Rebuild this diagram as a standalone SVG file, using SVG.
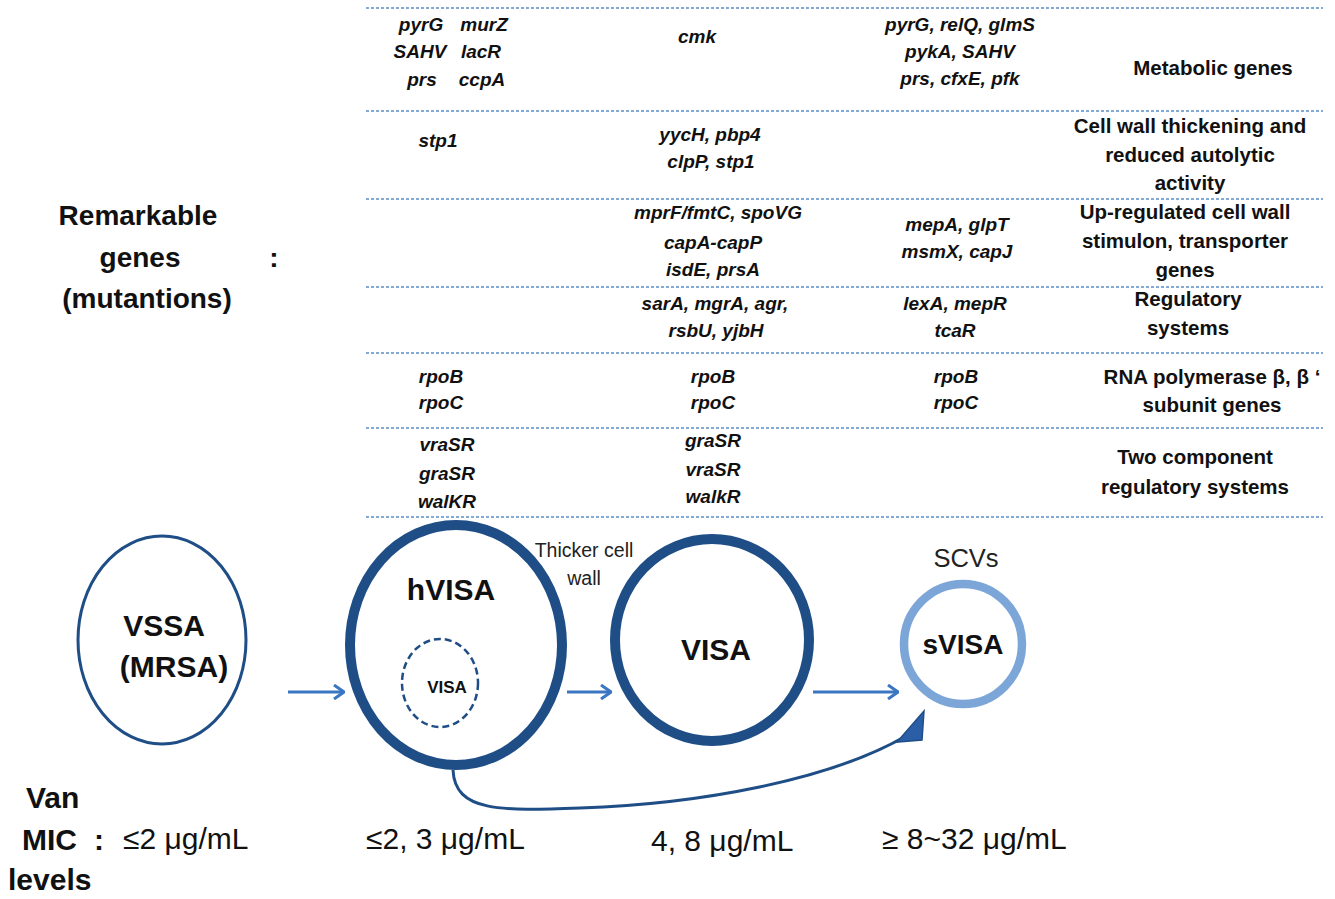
<svg xmlns="http://www.w3.org/2000/svg" width="1335" height="899" viewBox="0 0 1335 899">
<defs>
<style>
.sep{stroke:#5B8FC7;stroke-width:1.4;stroke-dasharray:3 2;fill:none}
.g{font-family:"Liberation Sans",Arial,sans-serif;font-weight:bold;font-style:italic;font-size:19px;fill:#111;text-anchor:middle}
.lab{font-family:"Liberation Sans",Arial,sans-serif;font-weight:bold;font-size:20.5px;fill:#111;text-anchor:middle}
.big{font-family:"Liberation Sans",Arial,sans-serif;font-weight:bold;font-size:28px;fill:#111;text-anchor:middle}
.node{font-family:"Liberation Sans",Arial,sans-serif;font-weight:bold;font-size:30px;fill:#111;text-anchor:middle}
.norm{font-family:"Liberation Sans",Arial,sans-serif;font-size:19.5px;fill:#222;text-anchor:middle}
.mic{font-family:"Liberation Sans",Arial,sans-serif;font-size:30px;fill:#111}
.micb{font-family:"Liberation Sans",Arial,sans-serif;font-size:30px;font-weight:bold;fill:#111}
.arr{stroke:#3A76C2;stroke-width:3;fill:none}
</style>
<marker id="open" viewBox="0 0 12 16" refX="11" refY="8" markerWidth="12" markerHeight="16" markerUnits="userSpaceOnUse" orient="auto">
<path d="M1,1 L11,8 L1,15" fill="none" stroke="#3A76C2" stroke-width="3"/>
</marker>
</defs>
<rect width="1335" height="899" fill="#fff"/>

<g id="separators">
<line class="sep" x1="366" y1="8" x2="1323" y2="8"/>
<line class="sep" x1="366" y1="111" x2="1323" y2="111"/>
<line class="sep" x1="366" y1="199" x2="1323" y2="199"/>
<line class="sep" x1="366" y1="287" x2="1323" y2="287"/>
<line class="sep" x1="366" y1="353" x2="1323" y2="353"/>
<line class="sep" x1="366" y1="428" x2="1323" y2="428"/>
<line class="sep" x1="366" y1="517" x2="1323" y2="517"/>
</g>

<g id="left-label">
<text class="big" x="138" y="225">Remarkable</text>
<text class="big" x="140" y="267">genes</text>
<text class="big" x="147" y="308">(mutantions)</text>
<text class="big" x="274" y="267">:</text>
</g>

<g id="row-metabolic">
<text class="g" x="421" y="31">pyrG</text><text class="g" x="484" y="31">murZ</text>
<text class="g" x="420" y="58">SAHV</text><text class="g" x="481" y="58">lacR</text>
<text class="g" x="422" y="86">prs</text><text class="g" x="482" y="86">ccpA</text>
<text class="g" x="697" y="43">cmk</text>
<text class="g" x="960" y="31">pyrG, relQ, glmS</text>
<text class="g" x="960" y="58">pykA, SAHV</text>
<text class="g" x="960" y="85">prs, cfxE, pfk</text>
<text class="lab" x="1213" y="75">Metabolic genes</text>
</g>

<g id="row-cellwall">
<text class="g" x="438" y="147">stp1</text>
<text class="g" x="710" y="141">yycH, pbp4</text>
<text class="g" x="711" y="168">clpP, stp1</text>
<text class="lab" x="1190" y="133">Cell wall thickening and</text>
<text class="lab" x="1190" y="162">reduced autolytic</text>
<text class="lab" x="1190" y="190">activity</text>
</g>

<g id="row-upregulated">
<text class="g" x="718" y="219">mprF/fmtC, spoVG</text>
<text class="g" x="713" y="249">capA-capP</text>
<text class="g" x="713" y="276">isdE, prsA</text>
<text class="g" x="957" y="231">mepA, glpT</text>
<text class="g" x="957" y="258">msmX, capJ</text>
<text class="lab" x="1185" y="219">Up-regulated cell wall</text>
<text class="lab" x="1185" y="248">stimulon, transporter</text>
<text class="lab" x="1185" y="277">genes</text>
</g>

<g id="row-regulatory">
<text class="g" x="715" y="310">sarA, mgrA, agr,</text>
<text class="g" x="716" y="337">rsbU, yjbH</text>
<text class="g" x="955" y="310">lexA, mepR</text>
<text class="g" x="955" y="337">tcaR</text>
<text class="lab" x="1188" y="306">Regulatory</text>
<text class="lab" x="1188" y="335">systems</text>
</g>

<g id="row-rna">
<text class="g" x="441" y="383">rpoB</text><text class="g" x="441" y="409">rpoC</text>
<text class="g" x="713" y="383">rpoB</text><text class="g" x="713" y="409">rpoC</text>
<text class="g" x="956" y="383">rpoB</text><text class="g" x="956" y="409">rpoC</text>
<text class="lab" x="1212" y="384">RNA polymerase β, β ‘</text>
<text class="lab" x="1212" y="412">subunit genes</text>
</g>

<g id="row-twocomp">
<text class="g" x="447" y="451">vraSR</text>
<text class="g" x="447" y="480">graSR</text>
<text class="g" x="447" y="508">walKR</text>
<text class="g" x="713" y="447">graSR</text>
<text class="g" x="713" y="476">vraSR</text>
<text class="g" x="713" y="503">walkR</text>
<text class="lab" x="1195" y="464">Two component</text>
<text class="lab" x="1195" y="494">regulatory systems</text>
</g>

<g id="connectors">
<line class="arr" x1="288" y1="692" x2="344" y2="692" marker-end="url(#open)"/>
<line class="arr" x1="567" y1="692" x2="611" y2="692" marker-end="url(#open)"/>
<line class="arr" x1="813" y1="692" x2="898" y2="692" marker-end="url(#open)"/>
<path d="M453,770 C455,812 500,811 580,808 C700,804 830,780 906,736" fill="none" stroke="#1F4E87" stroke-width="3"/>
<polygon points="924,711 897,742 922,740" fill="#2A5FA8" stroke="#1F4E87" stroke-width="1.5"/>
</g>

<g id="node-vssa">
<ellipse cx="162" cy="640" rx="84" ry="104" fill="none" stroke="#1F4E87" stroke-width="3"/>
<text class="node" x="164" y="636">VSSA</text>
<text class="node" x="174" y="677">(MRSA)</text>
</g>

<g id="node-hvisa">
<ellipse cx="456" cy="645" rx="106" ry="120" fill="none" stroke="#1F4E87" stroke-width="10"/>
<text class="node" x="451" y="600">hVISA</text>
<ellipse cx="440" cy="683" rx="38" ry="44" fill="none" stroke="#1F4E87" stroke-width="2.5" stroke-dasharray="7 4"/>
<text class="node" style="font-size:17px" x="447" y="693">VISA</text>
</g>

<g id="label-thicker">
<text class="norm" x="584" y="557">Thicker cell</text>
<text class="norm" x="584" y="585">wall</text>
</g>

<g id="node-visa">
<ellipse cx="712" cy="640" rx="97" ry="101" fill="none" stroke="#1F4E87" stroke-width="10"/>
<text class="node" x="716" y="660">VISA</text>
</g>

<g id="node-svisa">
<text class="norm" style="font-size:25.5px" x="966" y="567">SCVs</text>
<ellipse cx="963" cy="644" rx="59" ry="60" fill="none" stroke="#7DA6D8" stroke-width="8.5"/>
<text class="node" style="font-size:28px" x="963" y="654">sVISA</text>
</g>

<g id="mic">
<text class="micb" x="26" y="808">Van</text>
<text class="micb" x="22" y="850">MIC</text>
<text class="micb" x="94" y="850">:</text>
<text class="micb" x="8" y="890">levels</text>
<text class="mic" x="123" y="849">≤2 μg/mL</text>
<text class="mic" x="366" y="849">≤2, 3 μg/mL</text>
<text class="mic" x="651" y="851">4, 8 μg/mL</text>
<text class="mic" x="882" y="849">≥ 8~32 μg/mL</text>
</g>
</svg>
